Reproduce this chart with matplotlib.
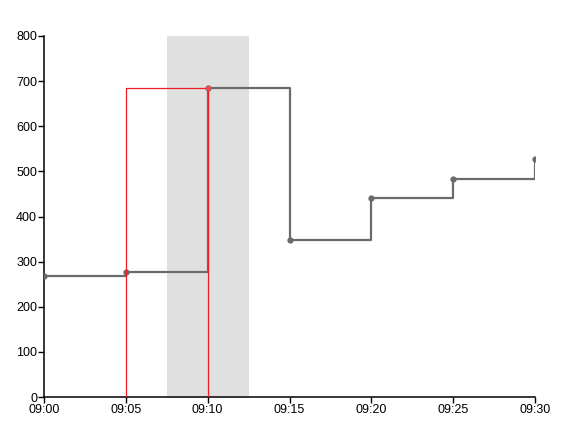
import matplotlib
matplotlib.use("Agg")
import matplotlib.pyplot as plt

# Data
times = ["09:00", "09:05", "09:10", "09:15", "09:20", "09:25", "09:30"]
values = [268, 278, 685, 348, 440, 484, 528]
highlight_start = "09:05"
highlight_end = "09:10"
highlight_value = 685
band_start = "09:07:30"
band_end = "09:12:30"
y_ticks = [0, 100, 200, 300, 400, 500, 600, 700, 800]


def to_min(t):
    parts = [int(p) for p in t.split(":")]
    m = parts[0] * 60 + parts[1]
    if len(parts) > 2:
        m += parts[2] / 60.0
    return m - 9 * 60


x = [to_min(t) for t in times]

plt.rcParams["font.family"] = ["Liberation Sans", "DejaVu Sans"]
fig = plt.figure(figsize=(5.69, 4.38), dpi=100)
ax = fig.add_axes([44 / 569, 1 - 397 / 438, (535 - 44) / 569, (397 - 36) / 438])

ax.axvspan(to_min(band_start), to_min(band_end), color="#e0e0e0", zorder=0, lw=0)

ax.step(x, values, where="post", color="#6b6b6b", lw=1.6, zorder=2)
ax.plot(x, values, "o", color="#6b6b6b", ms=3.5, zorder=3)

hs, he = to_min(highlight_start), to_min(highlight_end)
ax.plot([hs, hs, he, he], [0, highlight_value, highlight_value, 0],
        color="#ee1c25", lw=0.9, zorder=4)
ax.plot([he], [highlight_value], "o", color="#e05050", ms=3, zorder=5)

ax.set_xlim(x[0], x[-1])
ax.set_ylim(0, 800)
ax.set_xticks(x)
ax.set_xticklabels(times)
ax.set_yticks(y_ticks)
ax.set_yticklabels([str(v) for v in y_ticks])
ax.tick_params(labelsize=9, length=4, width=1, color="black", pad=1)
for s in ["top", "right"]:
    ax.spines[s].set_visible(False)
for s in ["left", "bottom"]:
    ax.spines[s].set_linewidth(1.1)
    ax.spines[s].set_color("black")

fig.savefig("out.png", dpi=100)
